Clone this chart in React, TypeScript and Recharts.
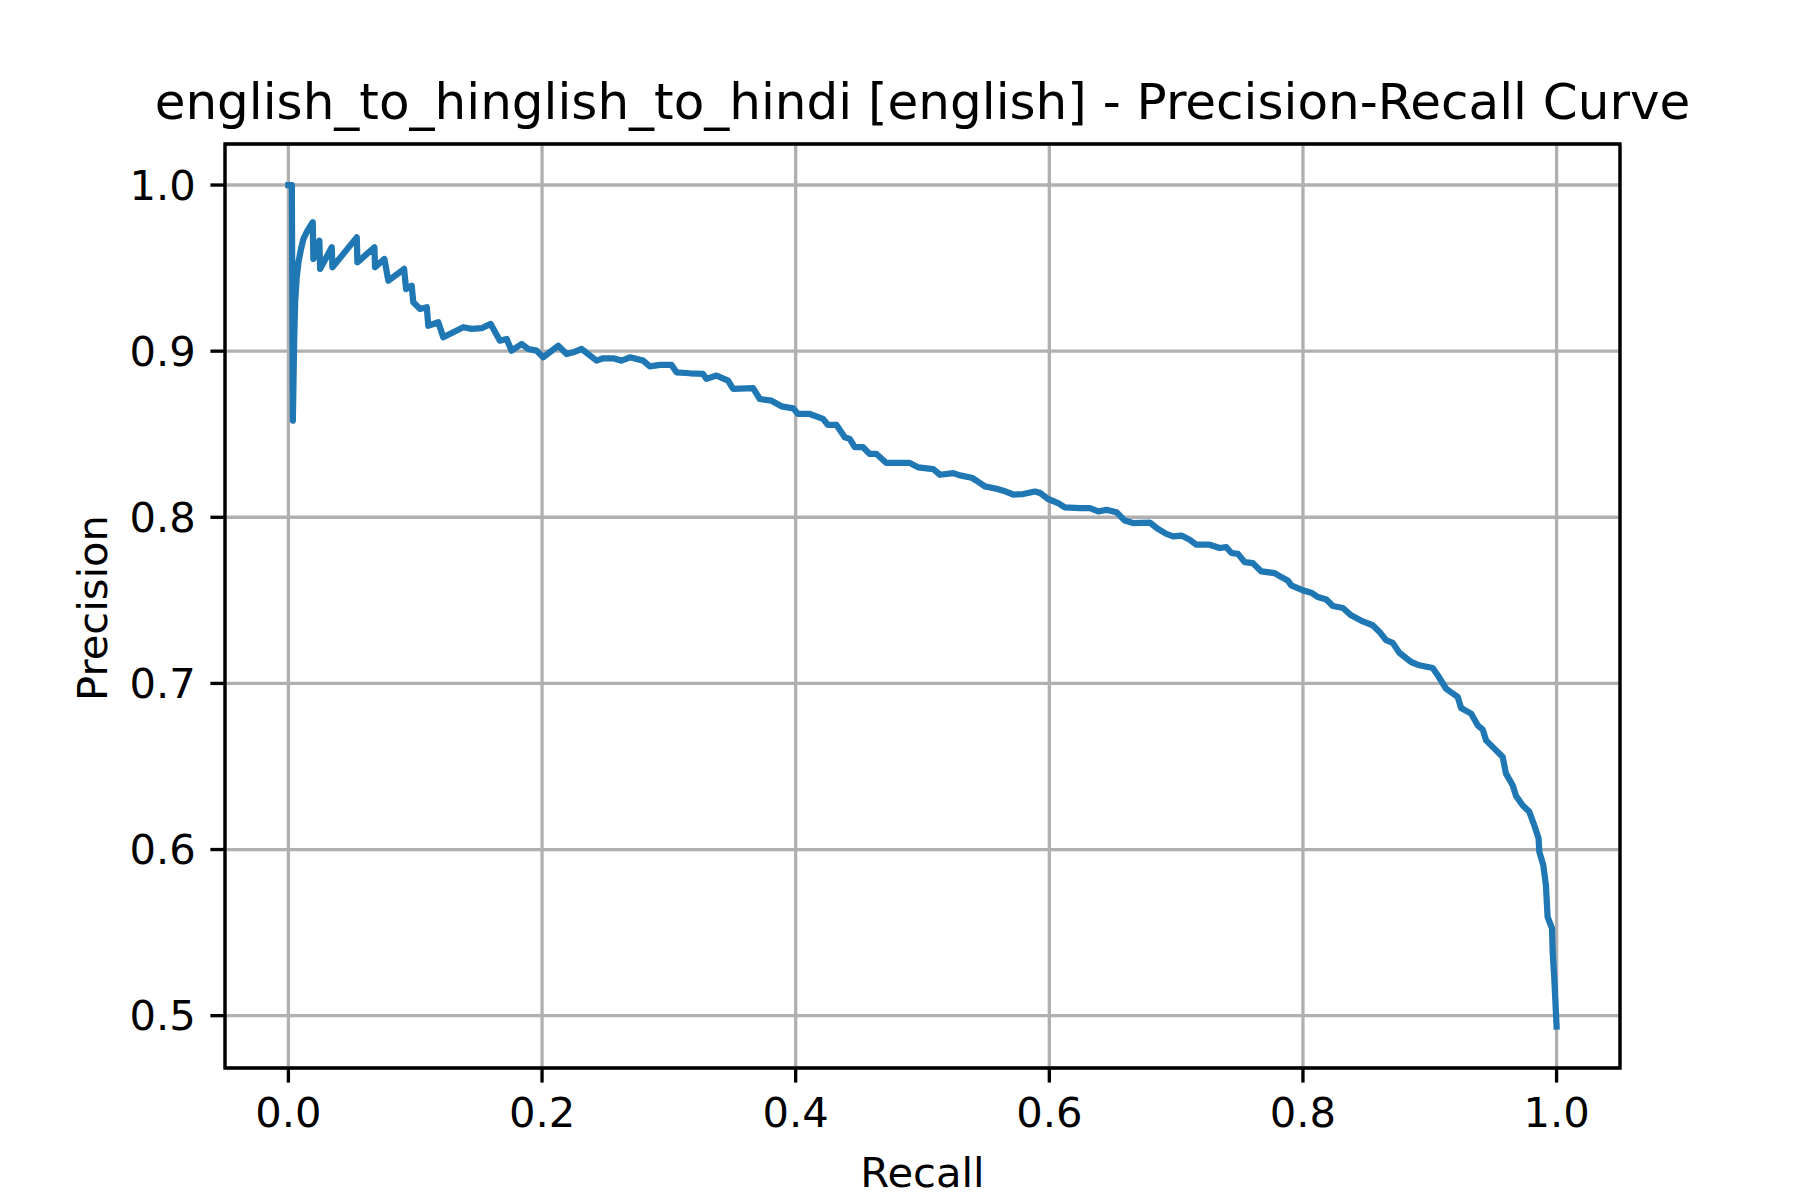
import React from "react";
import {
  LineChart,
  Line,
  XAxis,
  YAxis,
  CartesianGrid,
  ReferenceArea,
} from "recharts";

const recall: number[] = [
  0.0, 0.0027, 0.0035, 0.0045, 0.0053, 0.0065, 0.0079, 0.0098, 0.0118, 0.015,
  0.0192, 0.0197, 0.0244, 0.025,
  0.0342, 0.0347, 0.0539, 0.0544, 0.0678, 0.0683, 0.0757, 0.0788, 0.0912, 0.0928,
  0.0972, 0.0985, 0.1038, 0.1091, 0.1103, 0.1182, 0.1221, 0.13, 0.1379, 0.1445,
  0.1524, 0.1595, 0.1668, 0.1721, 0.176, 0.1839, 0.1891, 0.1957, 0.2009, 0.2128,
  0.2194, 0.2246, 0.2312, 0.243, 0.2482, 0.2561, 0.2627, 0.2693, 0.2797, 0.285,
  0.2929, 0.3021, 0.3061, 0.3165, 0.327, 0.3297, 0.3376, 0.3467, 0.3507, 0.3664,
  0.3717, 0.3809, 0.3888, 0.398, 0.4019, 0.4111, 0.4216, 0.4255, 0.4322, 0.4387,
  0.4426, 0.4466, 0.4531, 0.4584, 0.4637, 0.4715, 0.4899, 0.4965, 0.5085, 0.5138,
  0.5243, 0.5295, 0.5388, 0.5427, 0.5492, 0.5584, 0.5637, 0.5715, 0.5794, 0.5886,
  0.5925, 0.599, 0.607, 0.6122, 0.624, 0.632, 0.6385, 0.645, 0.653, 0.6595,
  0.666, 0.6792, 0.6857, 0.6923, 0.6976, 0.7042, 0.7107, 0.716, 0.7265, 0.7343,
  0.7396, 0.7436, 0.7488, 0.754, 0.7605, 0.7672, 0.7777, 0.7829, 0.788, 0.7908,
  0.8, 0.8066, 0.8118, 0.8184, 0.8236, 0.8315, 0.838, 0.8472, 0.855, 0.8604,
  0.8656, 0.8708, 0.876, 0.8853, 0.8918, 0.9023, 0.9063, 0.9129, 0.9221, 0.9247,
  0.9326, 0.9378, 0.9418, 0.9444, 0.9523, 0.9575, 0.9601, 0.9654, 0.968, 0.9732,
  0.9785, 0.9824, 0.9858, 0.9864, 0.9895, 0.9916, 0.9929, 0.9964, 0.9969, 0.9982,
  1.0,
];

const precision: number[] = [
  1.0, 1.0, 0.8582, 0.905, 0.9294, 0.944, 0.9535, 0.961, 0.9675, 0.9725,
  0.9776, 0.9555, 0.9665, 0.9495,
  0.9625, 0.9505, 0.9685, 0.9535, 0.9625, 0.9505, 0.9555, 0.9424, 0.9495, 0.9374,
  0.9394, 0.9294, 0.9254, 0.9264, 0.9153, 0.9174, 0.9084, 0.9114, 0.9144, 0.9134,
  0.9138, 0.9164, 0.9063, 0.9073, 0.9003, 0.9043, 0.9013, 0.9003, 0.8963, 0.9033,
  0.8983, 0.8993, 0.9013, 0.8943, 0.8957, 0.8957, 0.8943, 0.8963, 0.8943, 0.8909,
  0.8917, 0.8917, 0.8873, 0.8867, 0.8863, 0.8833, 0.8853, 0.8823, 0.8773, 0.8777,
  0.8712, 0.8702, 0.8668, 0.8656, 0.8622, 0.8622, 0.8592, 0.8556, 0.8556, 0.8482,
  0.8472, 0.8422, 0.8422, 0.8381, 0.8381, 0.8327, 0.8327, 0.8301, 0.829, 0.8256,
  0.8266, 0.8252, 0.8238, 0.822, 0.8186, 0.8172, 0.816, 0.8137, 0.814, 0.8155,
  0.8147, 0.811, 0.8085, 0.806, 0.8055, 0.8055, 0.8035, 0.8045, 0.803, 0.798,
  0.7965, 0.7968, 0.793, 0.79, 0.7885, 0.789, 0.7865, 0.7835, 0.7835, 0.7815,
  0.782, 0.7785, 0.778, 0.773, 0.7724, 0.7674, 0.7664, 0.764, 0.762, 0.759,
  0.756, 0.7546, 0.752, 0.7505, 0.7466, 0.7454, 0.741, 0.7373, 0.735, 0.731,
  0.726, 0.7244, 0.7185, 0.7129, 0.7109, 0.7093, 0.7049, 0.6968, 0.6918, 0.6852,
  0.6818, 0.6748, 0.6722, 0.6657, 0.6597, 0.6557, 0.6457, 0.6387, 0.6323, 0.6267,
  0.6227, 0.6146, 0.6066, 0.5986, 0.5906, 0.5785, 0.5595, 0.5525, 0.5385, 0.5224,
  0.4935,
];

const xTicks: number[] = [0, 0.2, 0.4, 0.6, 0.8, 1.0];
const yTicks: number[] = [0.5, 0.6, 0.7, 0.8, 0.9, 1.0];
const xDomain: [number, number] = [-0.05, 1.05];
const yDomain: [number, number] = [0.4685, 1.0247];

const titleText = "english_to_hinglish_to_hindi [english] - Precision-Recall Curve";
const xLabel = "Recall";
const yLabel = "Precision";

const data = recall.map((r, i) => ({ recall: r, precision: precision[i] }));

const FONT = "'DejaVu Sans', sans-serif";
const LW = 3.33;

export default function App() {
  const tickStyle = { fill: "#000", fontSize: 41.7, fontFamily: FONT };
  return (
    <div
      style={{
        position: "absolute",
        left: 0,
        top: 0,
        width: 1800,
        height: 1200,
        background: "#fff",
      }}
    >
      <LineChart
        width={1800}
        height={1200}
        data={data}
        margin={{ top: 144, right: 180, bottom: 0, left: 0 }}
      >
        <CartesianGrid stroke="#b0b0b0" strokeWidth={LW} />
        <XAxis
          dataKey="recall"
          type="number"
          domain={xDomain}
          ticks={xTicks}
          interval={0}
          allowDataOverflow
          height={132}
          tickSize={14.6}
          tickMargin={15}
          axisLine={false}
          tickLine={{ stroke: "#000", strokeWidth: LW }}
          tick={tickStyle}
          tickFormatter={(v: number) => v.toFixed(1)}
        />
        <YAxis
          dataKey="precision"
          type="number"
          domain={yDomain}
          ticks={yTicks}
          interval={0}
          allowDataOverflow
          width={225}
          tickSize={14.6}
          tickMargin={14.6}
          axisLine={false}
          tickLine={{ stroke: "#000", strokeWidth: LW }}
          tick={tickStyle}
          tickFormatter={(v: number) => v.toFixed(1)}
        />
        <ReferenceArea
          x1={xDomain[0]}
          x2={xDomain[1]}
          y1={yDomain[0]}
          y2={yDomain[1]}
          fill="none"
          fillOpacity={0}
          stroke="#000"
          strokeWidth={LW}
          ifOverflow="visible"
        />
        <Line
          type="linear"
          dataKey="precision"
          stroke="#1f77b4"
          strokeWidth={6.25}
          strokeLinejoin="round"
          strokeLinecap="square"
          dot={false}
          activeDot={false}
          isAnimationActive={false}
        />
      </LineChart>
      <svg
        width={1800}
        height={1200}
        style={{ position: "absolute", left: 0, top: 0, pointerEvents: "none" }}
      >
        <text
          x={922.5}
          y={119.3}
          textAnchor="middle"
          fontSize={50}
          fontFamily={FONT}
          fill="#000"
        >
          {titleText}
        </text>
        <text
          x={922.5}
          y={1186.7}
          textAnchor="middle"
          fontSize={41.7}
          fontFamily={FONT}
          fill="#000"
        >
          {xLabel}
        </text>
        <text
          transform="translate(107,608) rotate(-90)"
          textAnchor="middle"
          fontSize={41.7}
          fontFamily={FONT}
          fill="#000"
        >
          {yLabel}
        </text>
      </svg>
    </div>
  );
}
